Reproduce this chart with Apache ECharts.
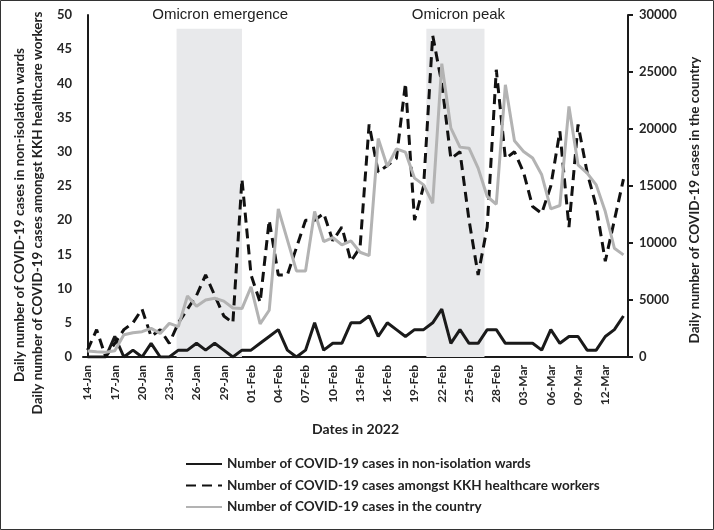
<!DOCTYPE html>
<html>
<head>
<meta charset="utf-8">
<script src="https://cdn.jsdelivr.net/npm/echarts@6/dist/echarts.min.js"></script>
<style>
html,body{margin:0;padding:0;background:#fff;}
#c{width:714px;height:530px;}
</style>
</head>
<body>
<div id="c"></div>
<script>
var dates = ['14-Jan','15-Jan','16-Jan','17-Jan','18-Jan','19-Jan','20-Jan','21-Jan','22-Jan','23-Jan',
'24-Jan','25-Jan','26-Jan','27-Jan','28-Jan','29-Jan','30-Jan','31-Jan','01-Feb','02-Feb',
'03-Feb','04-Feb','05-Feb','06-Feb','07-Feb','08-Feb','09-Feb','10-Feb','11-Feb','12-Feb',
'13-Feb','14-Feb','15-Feb','16-Feb','17-Feb','18-Feb','19-Feb','20-Feb','21-Feb','22-Feb',
'23-Feb','24-Feb','25-Feb','26-Feb','27-Feb','28-Feb','01-Mar','02-Mar','03-Mar','04-Mar',
'05-Mar','06-Mar','07-Mar','08-Mar','09-Mar','10-Mar','11-Mar','12-Mar','13-Mar','14-Mar'];

var wardCases = [0,0,0,3,0,1,0,2,0,0, 1,1,2,1,2,1,0,1,1,2, 3,4,1,0,1,5,1,2,2,5,
  5,6,3,5,4,3,4,4,5,7, 2,4,2,2,4,4,2,2,2,2, 1,4,2,3,3,1,1,3,4,6];

var hcwCases = [1,4,0,2,4,5,7,3,4,2, 5,7,9,12,9,6,5,26,12,8, 20,12,12,16,20,20,21,17,19,14,
  16,34,27,28,29,40,20,25,47,40, 29,30,20,12,19,42,29,30,27,22, 21,25,33,19,34,27,22,14,20,26];

var countryCases = [530,470,420,550,1950,2130,2220,2510,2070,2950,
  2660,5350,4450,5000,5150,4900,4300,4250,6150,2900,
  4100,13000,10270,7550,7550,12760,10130,10480,9830,10190,
  9190,8900,19160,16710,18260,17970,15690,15100,13490,25730,
  20080,18410,18320,16570,14080,13400,23880,18970,18030,17450,
  15980,12990,13290,21980,16860,16130,15100,12760,9540,8960];

var seriesNames = ['Number of COVID-19 cases in non-isolation wards',
  'Number of COVID-19 cases amongst KKH healthcare workers',
  'Number of COVID-19 cases in the country'];

var leftAxisTitles = ['Daily number of COVID-19 cases in non-isolation wards',
  'Daily number of COVID-19 cases amongst KKH healthcare workers'];
var rightAxisTitle = 'Daily number of COVID-19 cases in the country';
var xAxisTitle = 'Dates in 2022';

var bandNames = ['Omicron emergence', 'Omicron peak'];
var bandStart = [9.8, 37.3];
var bandEnd = [17.0, 43.7];
var bandTop = 48;
var bandLabelShift = [11, 3];

var leftTicks = {min: 0, max: 50, interval: 5};
var rightTicks = {min: 0, max: 30000, interval: 5000};

var FONT = 'Lato';
var chart = echarts.init(document.getElementById('c'));

function textWidth(text, size) {
  var t = new echarts.graphic.Text({style: {text: text, font: 'bold ' + size + 'px ' + FONT}});
  return t.getBoundingRect().width;
}
function fitSize(text, target) {
  return 100 * target / textWidth(text, 100);
}
var leftSize = fitSize(leftAxisTitles[1], 403);
var rightSize = fitSize(rightAxisTitle, 287);

var bandData = bandNames.map(function (n, k) {
  return [
    {name: n, xAxis: bandStart[k], yAxis: 0,
     label: {offset: [bandLabelShift[k], 0]}},
    {xAxis: bandEnd[k], yAxis: bandTop}
  ];
});

function vText(str, x, y, size) {
  return {
    type: 'text', x: x, y: y, rotation: Math.PI / 2, silent: true,
    style: {text: str, font: 'bold ' + size.toFixed(2) + 'px ' + FONT, fill: '#222',
      align: 'center', verticalAlign: 'middle'}
  };
}

chart.setOption({
  animation: false,
  backgroundColor: '#fff',
  grid: {left: 83, right: 86, top: 15, bottom: 173, containLabel: false, outerBoundsMode: 'none'},
  xAxis: [{
    type: 'category',
    data: dates,
    boundaryGap: true,
    name: xAxisTitle,
    nameLocation: 'middle',
    nameGap: 65,
    nameTextStyle: {fontFamily: FONT, fontWeight: 'bold', fontSize: 14, color: '#222'},
    axisLine: {lineStyle: {color: '#1a1a1a', width: 2}},
    axisTick: {show: false},
    axisLabel: {interval: 2, rotate: 90, margin: 8, fontFamily: FONT, fontWeight: 'bold', fontSize: 12, color: '#262626'},
    splitLine: {show: false}
  }, {
    type: 'value',
    min: -0.5, max: 59.5,
    show: false
  }],
  yAxis: [{
    type: 'value',
    min: leftTicks.min, max: leftTicks.max, interval: leftTicks.interval,
    axisLine: {show: true, lineStyle: {color: '#1a1a1a', width: 2}},
    axisTick: {show: false},
    axisLabel: {margin: 11, fontFamily: FONT, fontWeight: 'bold', fontSize: 13, color: '#262626'},
    splitLine: {show: false}
  }, {
    type: 'value',
    position: 'right',
    min: rightTicks.min, max: rightTicks.max, interval: rightTicks.interval,
    axisLine: {show: true, lineStyle: {color: '#1a1a1a', width: 2}},
    axisTick: {show: true, inside: false, length: 5, lineStyle: {color: '#1a1a1a', width: 2}},
    axisLabel: {margin: 11, fontFamily: FONT, fontWeight: 'bold', fontSize: 13, color: '#262626',
      formatter: function (v) { return String(v); }},
    splitLine: {show: false}
  }],
  legend: {
    orient: 'vertical',
    left: 180,
    top: 452,
    itemWidth: 36,
    itemHeight: 12,
    itemGap: 7.5,
    data: seriesNames,
    itemStyle: {opacity: 0},
    textStyle: {fontFamily: FONT, fontWeight: 'bold', fontSize: 13.5, color: '#222'}
  },
  graphic: [{
    type: 'rect',
    shape: {x: 0.5, y: 0.5, width: 713, height: 529},
    style: {fill: 'none', stroke: '#333', lineWidth: 1},
    silent: true
  },
  vText(leftAxisTitles[0], 20, 215, leftSize),
  vText(leftAxisTitles[1], 38, 213, leftSize),
  vText(rightAxisTitle, 695, 200, rightSize)
  ],
  series: [{
    type: 'line',
    name: 'bands',
    xAxisIndex: 1,
    yAxisIndex: 0,
    data: [],
    silent: true,
    markArea: {
      silent: true,
      itemStyle: {color: '#e8e9eb'},
      label: {show: true, position: 'top', distance: 6, fontFamily: 'Liberation Sans', fontSize: 15, color: '#222'},
      data: bandData
    }
  }, {
    type: 'line',
    name: seriesNames[0],
    data: wardCases,
    xAxisIndex: 0, yAxisIndex: 0,
    symbol: 'none',
    lineStyle: {color: '#1a1a1a', width: 3},
    itemStyle: {color: '#1a1a1a'},
    z: 3
  }, {
    type: 'line',
    name: seriesNames[1],
    data: hcwCases,
    xAxisIndex: 0, yAxisIndex: 0,
    symbol: 'none',
    lineStyle: {color: '#111', width: 3, type: [10, 6]},
    itemStyle: {color: '#111'},
    z: 4
  }, {
    type: 'line',
    name: seriesNames[2],
    data: countryCases,
    xAxisIndex: 0, yAxisIndex: 1,
    symbol: 'none',
    lineStyle: {color: '#b3b3b3', width: 3},
    itemStyle: {color: '#b3b3b3'},
    z: 5
  }]
});
</script>
</body>
</html>
